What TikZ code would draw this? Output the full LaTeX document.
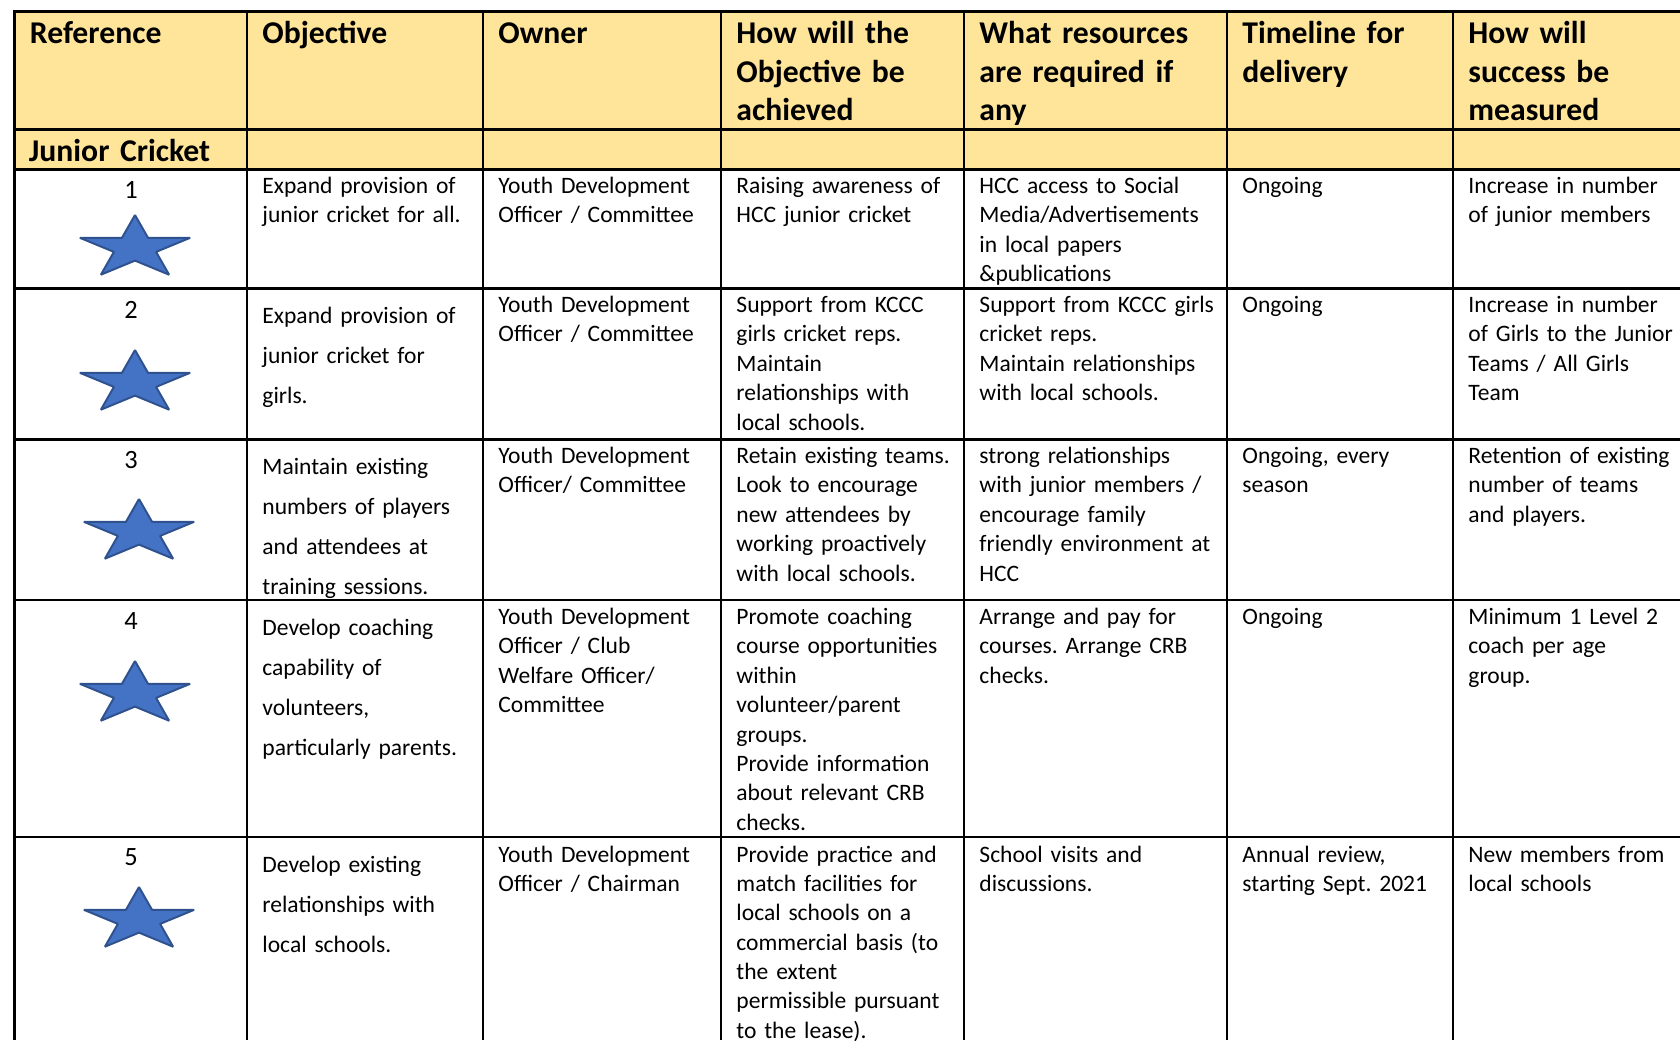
\documentclass[tikz,border=0pt]{standalone}
\usepackage{fontspec}
\setmainfont{Carlito}
\usepackage{tikz}
\definecolor{hl}{HTML}{FFE599}
\definecolor{starfill}{HTML}{4472C4}
\definecolor{starline}{HTML}{2F528F}
\newcommand\bodyfont{\fontsize{10.7}{13.36}\selectfont\frenchspacing}
\newcommand\widefont{\fontsize{10.7}{18.18}\selectfont\frenchspacing}
\newcommand\headfont{\fontsize{14.4}{17.55}\selectfont\bfseries\frenchspacing}
\tikzset{
    rule/.style = {line width=1.1pt},
    cell/.style = {anchor=base west, inner sep=0pt, align=left, text width=125pt, font=\bodyfont},
    widecell/.style = {cell, font=\widefont},
    head/.style = {cell, font=\headfont},
    refnum/.style = {anchor=base, inner sep=0pt, font=\fontsize{12}{14}\selectfont},
    cstar/.pic = {
        \draw[fill=starfill, draw=starline, line width=0.9pt, line join=bevel, xscale=58, yscale=-33]
            (90:1) -- (126:.382) -- (162:1) -- (198:.382) -- (234:1) -- (270:.382)
            -- (306:1) -- (342:.382) -- (18:1) -- (54:.382) -- cycle;
    },
}

\begin{document}
\begin{tikzpicture}[x=0.4545pt, y=-0.4545pt]
    \useasboundingbox (0,0) rectangle (1680,1040);
    % header background
    \fill[hl] (14.5,11.7) rectangle (1680,169.3);
    % rules
    \draw[rule] (1680,11.7) -- (14.5,11.7) -- (14.5,1040);
    \foreach \y in {129.5,169.3,288.5,439.5,600,837}
        \draw[rule] (14.5,\y) -- (1680,\y);
    \foreach \x in {247,483,721,964,1227,1453}
        \draw[rule] (\x,11.7) -- (\x,1040);

    % header
    \node[head] (hRef) at (29.5,43.5) {Reference};
    \node[head] (hObj) at (262,43.5) {Objective};
    \node[head] (hOwn) at (498,43.5) {Owner};
    \node[head] (hHow) at (736,43.5) {How will the\\Objective be\\achieved};
    \node[head] (hRes) at (979,43.5) {What resources\\are required if\\any};
    \node[head] (hTime) at (1242,43.5) {Timeline for\\delivery};
    \node[head] (hMeas) at (1468,43.5) {How will\\success be\\measured};
    \node[head] (junior) at (28.5,162) {Junior Cricket};

    % row 1
    \node[refnum] (ref1) at (131,199) {1};
    \pic at (135,248) {cstar};
    \node[cell] (obj1) at (262,193.5) {Expand provision of\\junior cricket for all.};
    \node[cell] (own1) at (498,193.5) {Youth Development\\Officer / Committee};
    \node[cell] (how1) at (736,193.5) {Raising awareness of\\HCC junior cricket};
    \node[cell] (res1) at (979,193.5) {HCC access to Social\\Media/Advertisements\\in local papers\\\&publications};
    \node[cell] (time1) at (1242,193.5) {Ongoing};
    \node[cell] (meas1) at (1468,193.5) {Increase in number\\of junior members};

    % row 2
    \node[refnum] (ref2) at (131,318) {2};
    \pic at (135,383) {cstar};
    \node[widecell] (obj2) at (262,323.5) {Expand provision of\\junior cricket for\\girls.};
    \node[cell] (own2) at (498,312.5) {Youth Development\\Officer / Committee};
    \node[cell] (how2) at (736,312.5) {Support from KCCC\\girls cricket reps.\\Maintain\\relationships with\\local schools.};
    \node[cell] (res2) at (979,312.5) {Support from KCCC girls\\cricket reps.\\Maintain relationships\\with local schools.};
    \node[cell] (time2) at (1242,312.5) {Ongoing};
    \node[cell] (meas2) at (1468,312.5) {Increase in number\\of Girls to the Junior\\Teams / All Girls\\Team};

    % row 3
    \node[refnum] (ref3) at (131,468.5) {3};
    \pic at (139,532) {cstar};
    \node[widecell] (obj3) at (262,474.5) {Maintain existing\\numbers of players\\and attendees at\\training sessions.};
    \node[cell] (own3) at (498,463.5) {Youth Development\\Officer/ Committee};
    \node[cell] (how3) at (736,463.5) {Retain existing teams.\\Look to encourage\\new attendees by\\working proactively\\with local schools.};
    \node[cell] (res3) at (979,463.5) {strong relationships\\with junior members /\\encourage family\\friendly environment at\\HCC};
    \node[cell] (time3) at (1242,463.5) {Ongoing, every\\season};
    \node[cell] (meas3) at (1468,463.5) {Retention of existing\\number of teams\\and players.};

    % row 4
    \node[refnum] (ref4) at (131,629) {4};
    \pic at (135,694) {cstar};
    \node[widecell] (obj4) at (262,635) {Develop coaching\\capability of\\volunteers,\\particularly parents.};
    \node[cell] (own4) at (498,624.5) {Youth Development\\Officer / Club\\Welfare Officer/\\Committee};
    \node[cell] (how4) at (736,624.5) {Promote coaching\\course opportunities\\within\\volunteer/parent\\groups.\\Provide information\\about relevant CRB\\checks.};
    \node[cell] (res4) at (979,624.5) {Arrange and pay for\\courses. Arrange CRB\\checks.};
    \node[cell] (time4) at (1242,624.5) {Ongoing};
    \node[cell] (meas4) at (1468,624.5) {Minimum 1 Level 2\\coach per age\\group.};

    % row 5
    \node[refnum] (ref5) at (131,865) {5};
    \pic at (139,920) {cstar};
    \node[widecell] (obj5) at (262,872) {Develop existing\\relationships with\\local schools.};
    \node[cell] (own5) at (498,862) {Youth Development\\Officer / Chairman};
    \node[cell] (how5) at (736,862) {Provide practice and\\match facilities for\\local schools on a\\commercial basis (to\\the extent\\permissible pursuant\\to the lease).};
    \node[cell] (res5) at (979,862) {School visits and\\discussions.};
    \node[cell] (time5) at (1242,862) {Annual review,\\starting Sept. 2021};
    \node[cell] (meas5) at (1468,862) {New members from\\local schools};
\end{tikzpicture}
\end{document}
